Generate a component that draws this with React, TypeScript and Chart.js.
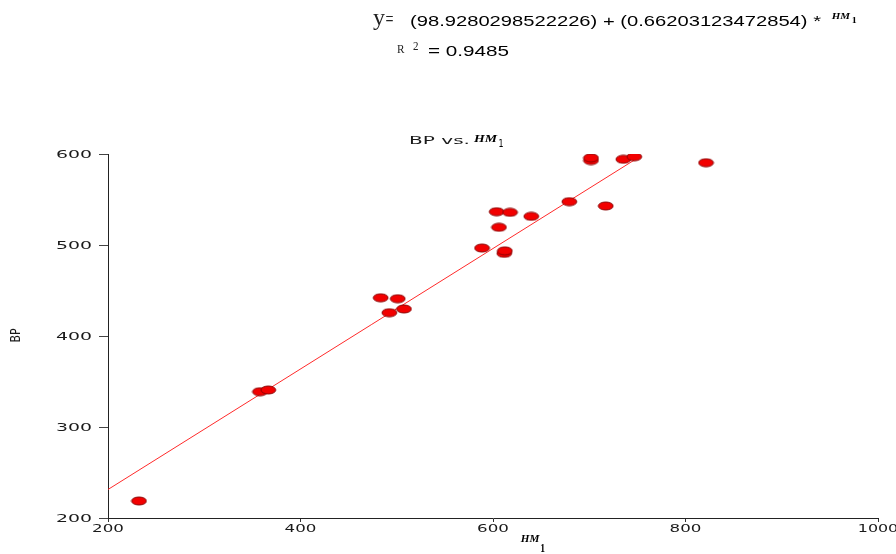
import React, { useEffect, useRef } from "react";
import { Chart, registerables } from "chart.js";

Chart.register(...registerables);

// ---- data ----
const hm1: number[] = [232.2, 357.9, 366.5, 483.3, 501.0, 492.3, 507.5, 588.6, 611.7, 612.3, 603.8, 617.7, 606.2, 639.8, 679.3, 717.1, 701.8, 701.8, 735.4, 746.8, 821.3];
const bpVals: number[] = [218.7, 338.8, 340.7, 442.0, 441.0, 425.6, 429.7, 496.7, 490.8, 493.6, 536.6, 535.9, 519.5, 531.5, 547.6, 542.9, 592.8, 595.8, 594.2, 597.0, 590.4];
const intercept = 98.9280298522226;
const slope = 0.66203123472854;
const rSquared = "0.9485";
const fitRange: number[] = [200, 747];
const xTicks: number[] = [200, 400, 600, 800, 1000];
const yTicks: number[] = [200, 300, 400, 500, 600];

function drawFit(ctx: CanvasRenderingContext2D, s: string, x: number, y: number, font: string, targetW: number | null, align: string = "left", color: string = "#111") {
  ctx.save();
  ctx.font = font;
  ctx.fillStyle = color;
  ctx.textAlign = "left";
  ctx.textBaseline = "alphabetic";
  const mw = ctx.measureText(s).width;
  const sx = targetW ? targetW / mw : 1;
  const w = mw * sx;
  let x0 = x;
  if (align === "center") x0 = x - w / 2;
  else if (align === "right") x0 = x - w;
  ctx.translate(x0, y);
  ctx.scale(sx, 1);
  ctx.fillText(s, 0, 0);
  ctx.restore();
}

const textPlugin = {
  id: "texts",
  afterDraw(chart: any) {
    const ctx: CanvasRenderingContext2D = chart.ctx;
    const xs = chart.scales.x;
    const ys = chart.scales.y;
    const tickFont = '10px "DejaVu Sans"';
    // tick labels
    yTicks.forEach((v) => {
      const py = ys.getPixelForValue(v);
      drawFit(ctx, String(v), 92, py + 3.6, tickFont, 36, "right", "#1a1a1a");
    });
    xTicks.forEach((v) => {
      const px = xs.getPixelForValue(v);
      drawFit(ctx, String(v), px, 532, tickFont, 8.6 * String(v).length + 6, "center", "#1a1a1a");
    });
    // chart title
    drawFit(ctx, "BP vs.", 409, 144, '10px "DejaVu Sans"', 61, "left", "#1a1a1a");
    drawFit(ctx, "HM", 474, 141.7, 'italic bold 10px "Liberation Serif"', 23, "left", "#000");
    drawFit(ctx, "1", 498.5, 146.6, '11px "DejaVu Sans"', 5, "left", "#000");
    // x axis title
    drawFit(ctx, "HM", 520.7, 542.3, 'italic bold 11px "Liberation Serif"', 18.6, "left", "#000");
    drawFit(ctx, "1", 540.3, 551.5, 'bold 12px "Liberation Serif"', 4.8, "left", "#000");
    // y axis title
    ctx.save();
    ctx.translate(20, 335.5);
    ctx.rotate(-Math.PI / 2);
    ctx.scale(1, 1.25);
    ctx.font = '11px "DejaVu Sans"';
    ctx.fillStyle = "#1a1a1a";
    ctx.textAlign = "center";
    ctx.textBaseline = "alphabetic";
    ctx.fillText("BP", 0, 0);
    ctx.restore();
    // equation
    drawFit(ctx, "y", 373, 25, '23px "Liberation Serif"', 12, "left", "#222");
    drawFit(ctx, "=", 385.5, 25.5, '20px "Liberation Serif"', 8, "left", "#222");
    drawFit(ctx, "(" + intercept + ") + (" + slope + ") *", 410, 25.7, '15px "Liberation Sans"', 411, "left", "#000");
    drawFit(ctx, "HM", 831.7, 19, 'italic bold 9px "Liberation Serif"', 18.3, "left", "#000");
    drawFit(ctx, "1", 851.7, 23.3, 'bold 9px "Liberation Serif"', 5, "left", "#000");
    drawFit(ctx, "R", 397, 53, '13px "Liberation Serif"', 7.5, "left", "#222");
    drawFit(ctx, "2", 413, 50, '12px "Liberation Serif"', 5.5, "left", "#222");
    drawFit(ctx, "= " + rSquared, 428, 55.7, '15px "Liberation Sans"', 81, "left", "#000");
  },
};

function makeMarker(): HTMLCanvasElement {
  const c = document.createElement("canvas");
  c.width = 17;
  c.height = 10;
  const g = c.getContext("2d")!;
  g.beginPath();
  g.ellipse(8.5, 5, 7.4, 4.0, 0, 0, Math.PI * 2);
  g.fillStyle = "#f20000";
  g.fill();
  g.lineWidth = 1;
  g.strokeStyle = "#8a0000";
  g.stroke();
  return c;
}

export default function App() {
  const ref = useRef<HTMLCanvasElement | null>(null);
  useEffect(() => {
    if (!ref.current) return;
    const marker = makeMarker();
    const pts = hm1.map((x, i) => ({ x, y: bpVals[i] }));
    const fit = fitRange.map((x) => ({ x, y: intercept + slope * x }));
    const chart = new Chart(ref.current, {
      type: "scatter",
      data: {
        datasets: [
          {
            data: pts,
            pointStyle: marker as any,
            pointRadius: 5,
            showLine: false,
          },
          {
            type: "line",
            data: fit,
            borderColor: "#ff2a2a",
            borderWidth: 1,
            pointRadius: 0,
            fill: false,
          } as any,
        ],
      },
      options: {
        responsive: false,
        animation: false,
        devicePixelRatio: 1,
        layout: { padding: { left: 0, top: 154, right: 18, bottom: 0 } },
        plugins: { legend: { display: false }, tooltip: { enabled: false }, title: { display: false } },
        scales: {
          x: {
            type: "linear",
            min: 200,
            max: 1000,
            afterBuildTicks: (s: any) => { s.ticks = xTicks.map((v) => ({ value: v })); },
            afterFit: (s: any) => { s.height = 36; },
            ticks: { display: false },
            grid: { drawOnChartArea: false, drawTicks: true, tickLength: 4, color: "#333", lineWidth: 1 },
            border: { display: true, color: "#222", width: 1 },
          },
          y: {
            type: "linear",
            min: 200,
            max: 600,
            afterBuildTicks: (s: any) => { s.ticks = yTicks.map((v) => ({ value: v })); },
            afterFit: (s: any) => { s.width = 108; },
            ticks: { display: false },
            grid: { drawOnChartArea: false, drawTicks: true, tickLength: 9, color: "#444", lineWidth: 1 },
            border: { display: true, color: "#222", width: 1 },
          },
        },
      },
      plugins: [textPlugin],
    });
    return () => chart.destroy();
  }, []);
  return (
    <div style={{ position: "absolute", left: 0, top: 0, width: 896, height: 554, background: "#fff" }}>
      <canvas ref={ref} width={896} height={554} style={{ display: "block" }} />
    </div>
  );
}
